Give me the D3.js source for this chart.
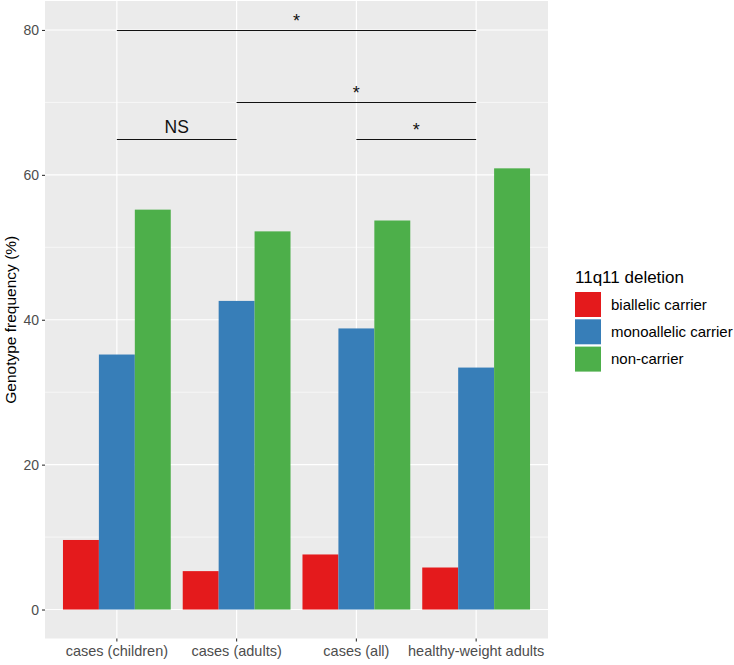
<!DOCTYPE html>
<html>
<head>
<meta charset="utf-8">
<script src="https://cdn.jsdelivr.net/npm/d3@7"></script>
<style>
  body { margin: 0; background: #fff; }
  svg { font-family: "Liberation Sans", Arial, sans-serif; }
</style>
</head>
<body>
<svg id="chart" width="734" height="665"></svg>
<script>
// data
const categories = ["cases (children)", "cases (adults)", "cases (all)", "healthy-weight adults"];
const genotypes = ["biallelic carrier", "monoallelic carrier", "non-carrier"];
const biallelic = [9.6, 5.3, 7.6, 5.8];
const monoallelic = [35.2, 42.6, 38.8, 33.4];
const nonCarrier = [55.2, 52.2, 53.7, 60.9];
const yTicks = [0, 20, 40, 60, 80];
const yMinor = [10, 30, 50, 70];

// significance brackets: from, to, height, label
const brackets = [
  { from: "cases (children)", to: "healthy-weight adults", y: 80, label: "*" },
  { from: "cases (adults)", to: "healthy-weight adults", y: 70, label: "*" },
  { from: "cases (children)", to: "cases (adults)", y: 65, label: "NS" },
  { from: "cases (all)", to: "healthy-weight adults", y: 65, label: "*" }
];

const colors = ["#E41A1C", "#377EB8", "#4DAF4A"];
const seriesVals = [biallelic, monoallelic, nonCarrier];

const panel = { left: 45, right: 548, top: 1, bottom: 638.5 };
const svg = d3.select("#chart");

const x = d3.scaleBand()
  .domain(categories)
  .range([panel.left, panel.right])
  .paddingInner(0.1)
  .paddingOuter(0.15);

const xSub = d3.scaleBand()
  .domain(genotypes)
  .range([0, x.bandwidth()]);

const y = d3.scaleLinear()
  .domain([-4, 84])
  .range([panel.bottom, panel.top]);

const mid = c => x(c) + x.bandwidth() / 2;

// panel background
svg.append("rect")
  .attr("x", panel.left)
  .attr("y", panel.top)
  .attr("width", panel.right - panel.left)
  .attr("height", panel.bottom - panel.top)
  .attr("fill", "#EBEBEB");

// grid
svg.append("g").selectAll("line")
  .data(yMinor)
  .join("line")
  .attr("x1", panel.left).attr("x2", panel.right)
  .attr("y1", d => y(d)).attr("y2", d => y(d))
  .attr("stroke", "#fff").attr("stroke-width", 0.6);

svg.append("g").selectAll("line")
  .data(yTicks)
  .join("line")
  .attr("x1", panel.left).attr("x2", panel.right)
  .attr("y1", d => y(d)).attr("y2", d => y(d))
  .attr("stroke", "#fff").attr("stroke-width", 1.2);

svg.append("g").selectAll("line")
  .data(categories)
  .join("line")
  .attr("x1", d => mid(d)).attr("x2", d => mid(d))
  .attr("y1", panel.top).attr("y2", panel.bottom)
  .attr("stroke", "#fff").attr("stroke-width", 1.2);

// bars
const barData = [];
categories.forEach((c, i) => {
  genotypes.forEach((g, j) => {
    barData.push({ cat: c, geno: g, value: seriesVals[j][i], color: colors[j] });
  });
});

svg.append("g").selectAll("rect")
  .data(barData)
  .join("rect")
  .attr("x", d => x(d.cat) + xSub(d.geno))
  .attr("width", xSub.bandwidth())
  .attr("y", d => y(d.value))
  .attr("height", d => y(0) - y(d.value))
  .attr("fill", d => d.color);

// brackets
const br = svg.append("g");
br.selectAll("line")
  .data(brackets)
  .join("line")
  .attr("x1", d => mid(d.from)).attr("x2", d => mid(d.to))
  .attr("y1", d => Math.round(y(d.y)) + 0.5).attr("y2", d => Math.round(y(d.y)) + 0.5)
  .attr("stroke", "#111").attr("stroke-width", 1.2);

br.selectAll("text")
  .data(brackets)
  .join("text")
  .attr("x", d => (mid(d.from) + mid(d.to)) / 2)
  .attr("y", d => y(d.y) + (d.label === "*" ? -3 : -5.7))
  .attr("text-anchor", "middle")
  .attr("font-size", d => d.label === "*" ? 18 : 17.5)
  .attr("fill", "#111")
  .text(d => d.label);

// y axis
const yAxis = d3.axisLeft(y).tickValues(yTicks).tickSize(3).tickPadding(3);
const gy = svg.append("g")
  .attr("transform", `translate(${panel.left},0)`)
  .call(yAxis);
gy.select(".domain").remove();
gy.selectAll(".tick line").attr("stroke", "#333").attr("stroke-width", 1.1);
gy.selectAll(".tick text")
  .attr("fill", "#4D4D4D")
  .attr("font-size", 14)
  .attr("font-family", "Liberation Sans, Arial, sans-serif");

// x axis
const xAxis = d3.axisBottom(x).tickSize(3).tickPadding(4);
const gx = svg.append("g")
  .attr("transform", `translate(0,${panel.bottom})`)
  .call(xAxis);
gx.select(".domain").remove();
gx.selectAll(".tick line").attr("stroke", "#333").attr("stroke-width", 1.1);
gx.selectAll(".tick text")
  .attr("fill", "#4D4D4D")
  .attr("font-size", 14.5)
  .attr("font-family", "Liberation Sans, Arial, sans-serif");

// axis title
svg.append("text")
  .attr("transform", `translate(16,${(panel.top + panel.bottom) / 2}) rotate(-90)`)
  .attr("text-anchor", "middle")
  .attr("font-size", 15.5)
  .attr("fill", "#000")
  .text("Genotype frequency (%)");

// legend
const legend = svg.append("g").attr("transform", "translate(575,0)");
legend.append("text")
  .attr("x", 0).attr("y", 283)
  .attr("font-size", 17)
  .attr("fill", "#000")
  .text("11q11 deletion");

const items = legend.selectAll("g.item")
  .data(genotypes)
  .join("g")
  .attr("class", "item")
  .attr("transform", (d, i) => `translate(0,${292 + i * 27.3})`);

items.append("rect")
  .attr("width", 26).attr("height", 25)
  .attr("fill", (d, i) => colors[i]);

items.append("text")
  .attr("x", 36).attr("y", 12.5)
  .attr("dy", "0.35em")
  .attr("font-size", 15)
  .attr("fill", "#000")
  .text(d => d);
</script>
</body>
</html>
